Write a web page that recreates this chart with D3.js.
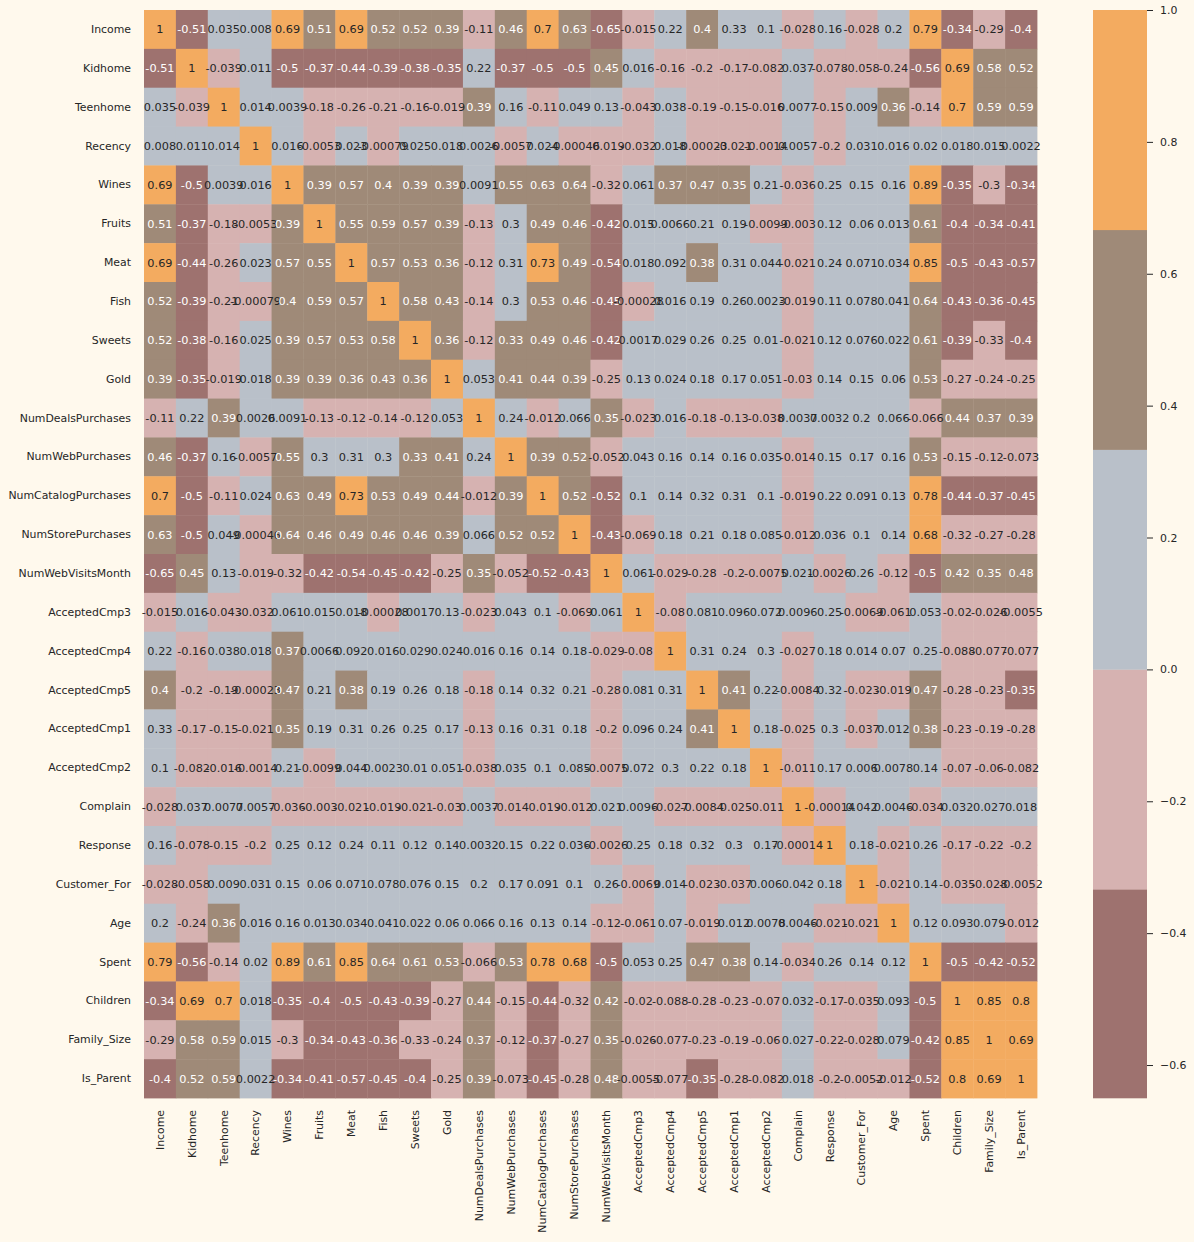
<!DOCTYPE html>
<html>
<head>
<meta charset="utf-8">
<script src="https://cdn.jsdelivr.net/npm/d3@7"></script>
<style>
  html, body { margin: 0; padding: 0; background: #FFF9ED; }
  svg { display: block; }
  text { font-family: "DejaVu Sans", sans-serif; }
</style>
</head>
<body>
<div id="chart"></div>
<script>
// ---------------- DATA ----------------
const features = ["Income","Kidhome","Teenhome","Recency","Wines","Fruits","Meat","Fish","Sweets","Gold",
  "NumDealsPurchases","NumWebPurchases","NumCatalogPurchases","NumStorePurchases","NumWebVisitsMonth",
  "AcceptedCmp3","AcceptedCmp4","AcceptedCmp5","AcceptedCmp1","AcceptedCmp2","Complain","Response",
  "Customer_For","Age","Spent","Children","Family_Size","Is_Parent"];

const rowIncome   = [1, -0.51, 0.035, 0.008, 0.69, 0.51, 0.69, 0.52, 0.52, 0.39, -0.11, 0.46, 0.7, 0.63, -0.65, -0.015, 0.22, 0.4, 0.33, 0.1, -0.028, 0.16, -0.028, 0.2, 0.79, -0.34, -0.29, -0.4];
const rowKidhome  = [-0.51, 1, -0.039, 0.011, -0.5, -0.37, -0.44, -0.39, -0.38, -0.35, 0.22, -0.37, -0.5, -0.5, 0.45, 0.016, -0.16, -0.2, -0.17, -0.082, 0.037, -0.078, -0.058, -0.24, -0.56, 0.69, 0.58, 0.52];
const rowTeenhome = [0.035, -0.039, 1, 0.014, 0.0039, -0.18, -0.26, -0.21, -0.16, -0.019, 0.39, 0.16, -0.11, 0.049, 0.13, -0.043, 0.038, -0.19, -0.15, -0.016, 0.0077, -0.15, 0.009, 0.36, -0.14, 0.7, 0.59, 0.59];
const rowRecency  = [0.008, 0.011, 0.014, 1, 0.016, -0.0053, 0.023, -0.00079, 0.025, 0.018, 0.0026, -0.0057, 0.024, -0.00046, -0.019, -0.032, 0.018, -0.00023, -0.021, -0.0014, 0.0057, -0.2, 0.031, 0.016, 0.02, 0.018, 0.015, 0.0022];
const rowWines    = [0.69, -0.5, 0.0039, 0.016, 1, 0.39, 0.57, 0.4, 0.39, 0.39, 0.0091, 0.55, 0.63, 0.64, -0.32, 0.061, 0.37, 0.47, 0.35, 0.21, -0.036, 0.25, 0.15, 0.16, 0.89, -0.35, -0.3, -0.34];
const rowFruits   = [0.51, -0.37, -0.18, -0.0053, 0.39, 1, 0.55, 0.59, 0.57, 0.39, -0.13, 0.3, 0.49, 0.46, -0.42, 0.015, 0.0066, 0.21, 0.19, -0.0099, -0.003, 0.12, 0.06, 0.013, 0.61, -0.4, -0.34, -0.41];
const rowMeat     = [0.69, -0.44, -0.26, 0.023, 0.57, 0.55, 1, 0.57, 0.53, 0.36, -0.12, 0.31, 0.73, 0.49, -0.54, 0.018, 0.092, 0.38, 0.31, 0.044, -0.021, 0.24, 0.071, 0.034, 0.85, -0.5, -0.43, -0.57];
const rowFish     = [0.52, -0.39, -0.21, -0.00079, 0.4, 0.59, 0.57, 1, 0.58, 0.43, -0.14, 0.3, 0.53, 0.46, -0.45, -0.00028, 0.016, 0.19, 0.26, 0.0023, -0.019, 0.11, 0.078, 0.041, 0.64, -0.43, -0.36, -0.45];
const rowSweets   = [0.52, -0.38, -0.16, 0.025, 0.39, 0.57, 0.53, 0.58, 1, 0.36, -0.12, 0.334, 0.49, 0.46, -0.42, 0.0017, 0.029, 0.26, 0.25, 0.01, -0.021, 0.12, 0.076, 0.022, 0.61, -0.39, -0.33, -0.4];
const rowGold     = [0.39, -0.35, -0.019, 0.018, 0.39, 0.39, 0.36, 0.43, 0.36, 1, 0.053, 0.41, 0.44, 0.39, -0.25, 0.13, 0.024, 0.18, 0.17, 0.051, -0.03, 0.14, 0.15, 0.06, 0.53, -0.27, -0.24, -0.25];
const rowDeals    = [-0.11, 0.22, 0.39, 0.0026, 0.0091, -0.13, -0.12, -0.14, -0.12, 0.053, 1, 0.24, -0.012, 0.066, 0.35, -0.023, 0.016, -0.18, -0.13, -0.038, 0.0037, 0.0032, 0.2, 0.066, -0.066, 0.44, 0.37, 0.39];
const rowWeb      = [0.46, -0.37, 0.16, -0.0057, 0.55, 0.3, 0.31, 0.3, 0.334, 0.41, 0.24, 1, 0.39, 0.52, -0.052, 0.043, 0.16, 0.14, 0.16, 0.035, -0.014, 0.15, 0.17, 0.16, 0.53, -0.15, -0.12, -0.073];
const rowCatalog  = [0.7, -0.5, -0.11, 0.024, 0.63, 0.49, 0.73, 0.53, 0.49, 0.44, -0.012, 0.39, 1, 0.52, -0.52, 0.1, 0.14, 0.32, 0.31, 0.1, -0.019, 0.22, 0.091, 0.13, 0.78, -0.44, -0.37, -0.45];
const rowStore    = [0.63, -0.5, 0.049, -0.00046, 0.64, 0.46, 0.49, 0.46, 0.46, 0.39, 0.066, 0.52, 0.52, 1, -0.43, -0.069, 0.18, 0.21, 0.18, 0.085, -0.012, 0.036, 0.1, 0.14, 0.68, -0.32, -0.27, -0.28];
const rowVisits   = [-0.65, 0.45, 0.13, -0.019, -0.32, -0.42, -0.54, -0.45, -0.42, -0.25, 0.35, -0.052, -0.52, -0.43, 1, 0.061, -0.029, -0.28, -0.2, -0.0075, 0.021, -0.0026, 0.26, -0.12, -0.5, 0.42, 0.35, 0.48];
const rowCmp3     = [-0.015, 0.016, -0.043, -0.032, 0.061, 0.015, 0.018, -0.00028, 0.0017, 0.13, -0.023, 0.043, 0.1, -0.069, 0.061, 1, -0.08, 0.081, 0.096, 0.072, 0.0096, 0.25, -0.0069, -0.061, 0.053, -0.02, -0.026, -0.0055];
const rowCmp4     = [0.22, -0.16, 0.038, 0.018, 0.37, 0.0066, 0.092, 0.016, 0.029, 0.024, 0.016, 0.16, 0.14, 0.18, -0.029, -0.08, 1, 0.31, 0.24, 0.3, -0.027, 0.18, 0.014, 0.07, 0.25, -0.088, -0.077, -0.077];
const rowCmp5     = [0.4, -0.2, -0.19, -0.00023, 0.47, 0.21, 0.38, 0.19, 0.26, 0.18, -0.18, 0.14, 0.32, 0.21, -0.28, 0.081, 0.31, 1, 0.41, 0.22, -0.0084, 0.32, -0.023, -0.019, 0.47, -0.28, -0.23, -0.35];
const rowCmp1     = [0.33, -0.17, -0.15, -0.021, 0.35, 0.19, 0.31, 0.26, 0.25, 0.17, -0.13, 0.16, 0.31, 0.18, -0.2, 0.096, 0.24, 0.41, 1, 0.18, -0.025, 0.3, -0.037, 0.012, 0.38, -0.23, -0.19, -0.28];
const rowCmp2     = [0.1, -0.082, -0.016, -0.0014, 0.21, -0.0099, 0.044, 0.0023, 0.01, 0.051, -0.038, 0.035, 0.1, 0.085, -0.0075, 0.072, 0.3, 0.22, 0.18, 1, -0.011, 0.17, 0.006, 0.0078, 0.14, -0.07, -0.06, -0.082];
const rowComplain = [-0.028, 0.037, 0.0077, 0.0057, -0.036, -0.003, -0.021, -0.019, -0.021, -0.03, 0.0037, -0.014, -0.019, -0.012, 0.021, 0.0096, -0.027, -0.0084, -0.025, -0.011, 1, -0.00014, 0.042, 0.0046, -0.034, 0.032, 0.027, 0.018];
const rowResponse = [0.16, -0.078, -0.15, -0.2, 0.25, 0.12, 0.24, 0.11, 0.12, 0.14, 0.0032, 0.15, 0.22, 0.036, -0.0026, 0.25, 0.18, 0.32, 0.3, 0.17, -0.00014, 1, 0.18, -0.021, 0.26, -0.17, -0.22, -0.2];
const rowCustFor  = [-0.028, -0.058, 0.009, 0.031, 0.15, 0.06, 0.071, 0.078, 0.076, 0.15, 0.2, 0.17, 0.091, 0.1, 0.26, -0.0069, 0.014, -0.023, -0.037, 0.006, 0.042, 0.18, 1, -0.021, 0.14, -0.035, -0.028, -0.0052];
const rowAge      = [0.2, -0.24, 0.36, 0.016, 0.16, 0.013, 0.034, 0.041, 0.022, 0.06, 0.066, 0.16, 0.13, 0.14, -0.12, -0.061, 0.07, -0.019, 0.012, 0.0078, 0.0046, -0.021, -0.021, 1, 0.12, 0.093, 0.079, -0.012];
const rowSpent    = [0.79, -0.56, -0.14, 0.02, 0.89, 0.61, 0.85, 0.64, 0.61, 0.53, -0.066, 0.53, 0.78, 0.68, -0.5, 0.053, 0.25, 0.47, 0.38, 0.14, -0.034, 0.26, 0.14, 0.12, 1, -0.5, -0.42, -0.52];
const rowChildren = [-0.34, 0.69, 0.7, 0.018, -0.35, -0.4, -0.5, -0.43, -0.39, -0.27, 0.44, -0.15, -0.44, -0.32, 0.42, -0.02, -0.088, -0.28, -0.23, -0.07, 0.032, -0.17, -0.035, 0.093, -0.5, 1, 0.85, 0.8];
const rowFamSize  = [-0.29, 0.58, 0.59, 0.015, -0.3, -0.34, -0.43, -0.36, -0.33, -0.24, 0.37, -0.12, -0.37, -0.27, 0.35, -0.026, -0.077, -0.23, -0.19, -0.06, 0.027, -0.22, -0.028, 0.079, -0.42, 0.85, 1, 0.69];
const rowIsParent = [-0.4, 0.52, 0.59, 0.0022, -0.34, -0.41, -0.57, -0.45, -0.4, -0.25, 0.39, -0.073, -0.45, -0.28, 0.48, -0.0055, -0.077, -0.35, -0.28, -0.082, 0.018, -0.2, -0.0052, -0.012, -0.52, 0.8, 0.69, 1];

const palette = ["#9E726F", "#D6B2B1", "#B9C0C9", "#9F8A78", "#F3AB60"];
const colorbarTicks = [1.0, 0.8, 0.6, 0.4, 0.2, 0.0, -0.2, -0.4, -0.6];

// ---------------- BUILD ----------------
const matrix = [rowIncome,rowKidhome,rowTeenhome,rowRecency,rowWines,rowFruits,rowMeat,rowFish,rowSweets,rowGold,
  rowDeals,rowWeb,rowCatalog,rowStore,rowVisits,rowCmp3,rowCmp4,rowCmp5,rowCmp1,rowCmp2,rowComplain,rowResponse,
  rowCustFor,rowAge,rowSpent,rowChildren,rowFamSize,rowIsParent];

const cells = [];
matrix.forEach((row, i) => row.forEach((v, j) => cells.push({r: features[i], c: features[j], v})));

const W = 1194, H = 1242;
const plot = {left: 144, top: 10, right: 1037, bottom: 1098};
const cbar = {left: 1093, width: 54};
const tickFont = "10.9px", annotFont = "11.3px";

const vmin = d3.min(cells, d => d.v), vmax = d3.max(cells, d => d.v);
// seaborn center=0 resampling of a 6-colour listed map -> boundaries at -1/3, 0, 1/3, 2/3
const color = d3.scaleThreshold().domain([-1/3, 0, 1/3, 2/3]).range(palette);

function relLum(c) {
  const rgb = d3.rgb(c);
  const f = x => { x /= 255; return x <= 0.03928 ? x / 12.92 : Math.pow((x + 0.055) / 1.055, 2.4); };
  return 0.2126 * f(rgb.r) + 0.7152 * f(rgb.g) + 0.0722 * f(rgb.b);
}
const textColor = v => relLum(color(v)) > 0.408 ? "#262626" : "#ffffff";

const annotFmt = d3.formatLocale({decimal: ".", thousands: ",", grouping: [3], currency: ["", ""], minus: "-"}).format(".2");

const svg = d3.select("#chart").append("svg").attr("width", W).attr("height", H);
svg.append("rect").attr("width", W).attr("height", H).attr("fill", "#FFF9ED");

const x = d3.scaleBand().domain(features).range([plot.left, plot.right]);
const y = d3.scaleBand().domain(features).range([plot.top, plot.bottom]);

svg.append("g").selectAll("rect").data(cells).join("rect")
  .attr("x", d => x(d.c)).attr("y", d => y(d.r))
  .attr("width", x.bandwidth() + 0.4).attr("height", y.bandwidth() + 0.4)
  .attr("fill", d => color(d.v));

svg.append("g").selectAll("text").data(cells).join("text")
  .attr("x", d => x(d.c) + x.bandwidth() / 2)
  .attr("y", d => y(d.r) + y.bandwidth() / 2)
  .attr("text-anchor", "middle")
  .attr("dy", "0.36em")
  .attr("font-size", annotFont)
  .attr("fill", d => textColor(d.v))
  .text(d => annotFmt(d.v));

// axes
const yAxis = svg.append("g").attr("transform", `translate(${plot.left},0)`)
  .call(d3.axisLeft(y).tickSize(0).tickPadding(13));
yAxis.select(".domain").remove();
yAxis.selectAll("text").attr("font-size", tickFont).attr("fill", "#262626")
  .attr("font-family", "DejaVu Sans, sans-serif");

const xAxis = svg.append("g").attr("transform", `translate(0,${plot.bottom})`)
  .call(d3.axisBottom(x).tickSize(0).tickPadding(0));
xAxis.select(".domain").remove();
xAxis.selectAll("text")
  .attr("font-size", tickFont).attr("fill", "#262626")
  .attr("font-family", "DejaVu Sans, sans-serif")
  .attr("text-anchor", "end")
  .attr("transform", "rotate(-90)")
  .attr("x", -12).attr("y", 0).attr("dy", "0.35em");

// colorbar
const cy = d3.scaleLinear().domain([vmin, vmax]).range([plot.bottom, plot.top]);
const bounds = [vmin, -1/3, 0, 1/3, 2/3, vmax];
const segs = palette.map((c, i) => ({c, lo: bounds[i], hi: bounds[i + 1]}));
svg.append("g").selectAll("rect").data(segs).join("rect")
  .attr("x", cbar.left).attr("width", cbar.width)
  .attr("y", d => cy(d.hi)).attr("height", d => cy(d.lo) - cy(d.hi) + 0.3)
  .attr("fill", d => d.c);

const cAxis = svg.append("g").attr("transform", `translate(${cbar.left + cbar.width},0)`)
  .call(d3.axisRight(cy).tickValues(colorbarTicks).tickFormat(d3.format(".1f")).tickSize(6).tickPadding(7));
cAxis.select(".domain").remove();
cAxis.selectAll("line").attr("stroke", "#262626").attr("stroke-width", 1);
cAxis.selectAll("text").attr("font-size", tickFont).attr("fill", "#262626")
  .attr("font-family", "DejaVu Sans, sans-serif");
</script>
</body>
</html>
